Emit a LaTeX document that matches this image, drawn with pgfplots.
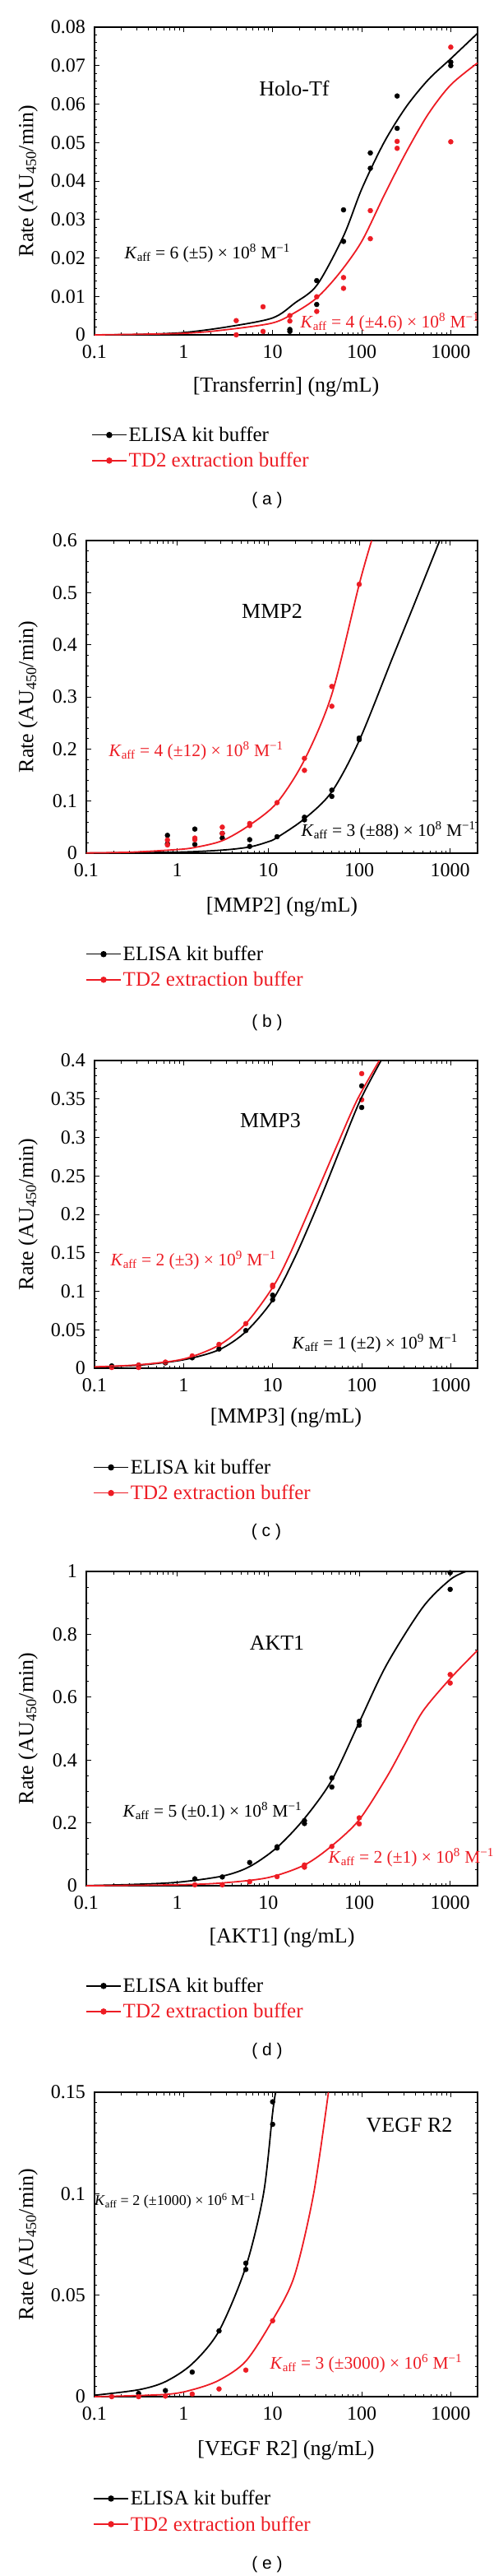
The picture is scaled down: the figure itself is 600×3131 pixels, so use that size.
\documentclass[border=0pt]{standalone}
\usepackage{pgfplots}
\pgfplotsset{compat=1.18}
\usepackage{fontspec}
\setmainfont{Liberation Serif}
\newfontfamily\capfont{Liberation Sans}
\definecolor{tdred}{RGB}{237,28,36}
\newcommand{\tsz}{\fontsize{24}{28}\selectfont}
\newcommand{\lsz}{\fontsize{26}{30}\selectfont}
\newcommand{\gsz}{\fontsize{25}{29}\selectfont}
\newcommand{\ttl}{\fontsize{26}{30}\selectfont}
\newcommand{\ksz}{\fontsize{21.5}{25}\selectfont}
\newcommand{\Kaff}[3]{\textit{K}\textsubscript{aff} = #1 (±#2) × 10\textsuperscript{#3} M\textsuperscript{−1}}
\newcommand{\legimgs}{%
  \addlegendimage{black, line width=1.5pt, mark=*, mark size=3pt}
  \addlegendentry{ELISA kit buffer}
  \addlegendimage{tdred, line width=1.5pt, mark=*, mark size=3pt}
  \addlegendentry{\textcolor{tdred}{TD2 extraction buffer}}}

\pgfplotsset{
 legend image code/.code={\draw[#1, mark repeat=2, mark phase=2] plot coordinates {(0pt,0pt) (21pt,0pt) (42pt,0pt)};},
 every axis/.append style={
  scale only axis, xmin=0.1, xmax=2000, ymin=0,
  xtick={0.1,1,10,100,1000}, xticklabels={0.1,1,10,100,1000},
  minor xtick={0.2,0.3,0.4,0.5,0.6,0.7,0.8,0.9,2,3,4,5,6,7,8,9,20,30,40,50,60,70,80,90,200,300,400,500,600,700,800,900,2000},
  scaled y ticks=false,
  tick align=inside, xtick pos=both, ytick pos=both,
  major tick length=6pt, minor tick length=3.5pt,
  axis line style={line width=1.3pt},
  tick style={black, line width=0.9pt},
  tick label style={font=\tsz, inner sep=1pt},
  xticklabel style={yshift=-11pt},
  yticklabel style={xshift=-10pt},
  ylabel={Rate (AU\textsubscript{450}/min)},
  label style={font=\lsz, inner sep=0pt},
  clip mode=individual,
  legend cell align=left,
  legend style={draw=none, fill=none, font=\gsz, row sep=8pt, inner sep=0pt},
 },
 mypts/.style={only marks, mark=*, mark size=3pt, forget plot},
 myfit/.style={no marks, line width=1.8pt, smooth, forget plot},
}

\begin{document}
\begin{tikzpicture}
\useasboundingbox (0pt,0pt) rectangle (600pt,-3131pt);

% ---------------- (a) Holo-Tf ----------------
\begin{semilogxaxis}[at={(115pt,-407pt)}, anchor=south west, width=466pt, height=374pt,
  ymax=0.08, ytick={0,0.01,0.02,0.03,0.04,0.05,0.06,0.07,0.08},
  yticklabels={0,0.01,0.02,0.03,0.04,0.05,0.06,0.07,0.08}, minor y tick num=4,
  xlabel={[Transferrin] (ng/mL)},
  xlabel style={at={(axis description cs:0.5,-0.168)}, anchor=center},
  ylabel style={at={(axis description cs:-0.1738,0.5)}, anchor=center},
  legend style={at={(axis description cs:-0.0086,-0.294)}, anchor=north west}]
\addplot[black, mypts] coordinates {(15.6,0.0014) (15.6,0.0009) (31.25,0.0141) (31.25,0.0079) (62.5,0.0325) (62.5,0.0243) (125,0.0473) (125,0.0433) (250,0.0621) (250,0.0537) (1000,0.0709) (1000,0.0700)};
\addplot[tdred, mypts] coordinates {(3.9,0.0037) (3.9,0.0000) (7.8,0.0073) (7.8,0.0009) (15.6,0.0050) (15.6,0.0036) (31.25,0.0099) (31.25,0.0061) (62.5,0.0149) (62.5,0.0121) (125,0.0323) (125,0.0250) (250,0.0503) (250,0.0485) (1000,0.0748) (1000,0.0502)};
\addplot[black, myfit] coordinates {(0.1,0) (0.316,0.0001) (1,0.0006) (3.16,0.0021) (10,0.0044) (17.8,0.0083) (31.6,0.0130) (62.5,0.0257) (100,0.0379) (178,0.0500) (316,0.0593) (562,0.0664) (1000,0.0718) (2000,0.0784)};
\addplot[tdred, myfit] coordinates {(0.1,0) (1,0.0004) (3.16,0.0014) (10,0.0031) (17.8,0.0058) (31.6,0.0097) (56,0.0160) (100,0.0243) (178,0.0362) (316,0.0475) (562,0.0575) (1000,0.0650) (2000,0.0707)};
\legimgs
\end{semilogxaxis}
\node[font=\ttl] at (358pt,-107pt) {Holo-Tf};
\node[font=\ksz, anchor=west] at (148pt,-308pt) {\Kaff{6}{5}{8}};
\node[font=\ksz, anchor=west, text=tdred] at (362pt,-392pt) {\Kaff{4}{4.6}{8}};
\node[font=\capfont\fontsize{21}{25}\selectfont] at (325pt,-608pt) {( a )};

% ---------------- (b) MMP2 ----------------
\begin{semilogxaxis}[at={(105pt,-1037pt)}, anchor=south west, width=476pt, height=380pt,
  ymax=0.6, ytick={0,0.1,0.2,0.3,0.4,0.5,0.6},
  yticklabels={0,0.1,0.2,0.3,0.4,0.5,0.6}, minor y tick num=4,
  xlabel={[MMP2] (ng/mL)},
  xlabel style={at={(axis description cs:0.5,-0.171)}, anchor=center},
  ylabel style={at={(axis description cs:-0.149,0.5)}, anchor=center},
  legend style={at={(axis description cs:-0.002,-0.292)}, anchor=north west}]
\addplot[black, mypts] coordinates {(0.78,0.0342) (0.78,0.018) (1.56,0.0463) (1.56,0.0168) (3.125,0.029) (3.125,0.038) (6.25,0.026) (6.25,0.013) (12.5,0.0316) (25,0.069) (25,0.064) (50,0.121) (50,0.109) (100,0.221) (100,0.218)};
\addplot[tdred, mypts] coordinates {(0.78,0.0253) (0.78,0.0158) (1.56,0.029) (1.56,0.026) (3.125,0.050) (3.125,0.038) (6.25,0.057) (6.25,0.053) (12.5,0.097) (25,0.182) (25,0.159) (50,0.320) (50,0.282) (100,0.516)};
\addplot[black, myfit] coordinates {(0.1,0.0002) (1,0.002) (3.16,0.006) (6.25,0.012) (10,0.022) (12.5,0.030) (25,0.066) (50,0.118) (100,0.216) (231,0.374) (405,0.479) (767,0.6)};
\addplot[tdred, myfit] coordinates {(0.1,0.0005) (0.316,0.002) (1,0.007) (1.56,0.011) (3.125,0.024) (6.25,0.054) (12.5,0.097) (25,0.179) (50,0.305) (100,0.516) (137,0.6)};
\legimgs
\end{semilogxaxis}
\node[font=\ttl] at (331pt,-743pt) {MMP2};
\node[font=\ksz, anchor=west, text=tdred] at (129pt,-913pt) {\Kaff{4}{12}{8}};
\node[font=\ksz, anchor=west] at (363pt,-1010pt) {\Kaff{3}{88}{8}};
\node[font=\capfont\fontsize{21}{25}\selectfont] at (325pt,-1243pt) {( b )};

% ---------------- (c) MMP3 ----------------
\begin{semilogxaxis}[at={(115pt,-1663pt)}, anchor=south west, width=466pt, height=374pt,
  ymax=0.4, ytick={0,0.05,0.1,0.15,0.2,0.25,0.3,0.35,0.4},
  yticklabels={0,0.05,0.1,0.15,0.2,0.25,0.3,0.35,0.4}, minor y tick num=4,
  xlabel={[MMP3] (ng/mL)},
  xlabel style={at={(axis description cs:0.5,-0.160)}, anchor=center},
  ylabel style={at={(axis description cs:-0.1738,0.5)}, anchor=center},
  legend style={at={(axis description cs:-0.004,-0.291)}, anchor=north west}]
\addplot[black, mypts] coordinates {(0.156,0.003) (0.3125,0.004) (0.625,0.007) (1.25,0.0136) (2.5,0.025) (5,0.049) (10,0.089) (10,0.095) (100,0.367) (100,0.339)};
\addplot[tdred, mypts] coordinates {(0.156,0.001) (0.3125,0.001) (0.3125,0.004) (0.625,0.008) (1.25,0.016) (2.5,0.031) (5,0.058) (10,0.106) (10,0.108) (100,0.383) (100,0.349)};
\addplot[black, myfit] coordinates {(0.1,0.0015) (0.316,0.004) (1,0.011) (2.5,0.024) (5,0.0475) (10,0.0886) (18.1,0.146) (33.4,0.217) (59.3,0.289) (96.8,0.349) (165,0.4)};
\addplot[tdred, myfit] coordinates {(0.1,0.0018) (0.316,0.0045) (1,0.012) (2.5,0.030) (5,0.058) (10,0.105) (15.3,0.146) (28.4,0.217) (52.5,0.289) (89.1,0.349) (158,0.4)};
\legimgs
\end{semilogxaxis}
\node[font=\ttl] at (329pt,-1362pt) {MMP3};
\node[font=\ksz, anchor=west, text=tdred] at (131pt,-1532pt) {\Kaff{2}{3}{9}};
\node[font=\ksz, anchor=west] at (352pt,-1633pt) {\Kaff{1}{2}{9}};
\node[font=\capfont\fontsize{21}{25}\selectfont] at (324pt,-1862pt) {( c )};

% ---------------- (d) AKT1 ----------------
\begin{semilogxaxis}[at={(105pt,-2292pt)}, anchor=south west, width=476pt, height=382pt,
  ymax=1, ytick={0,0.2,0.4,0.6,0.8,1},
  yticklabels={0,0.2,0.4,0.6,0.8,1}, minor y tick num=3,
  xlabel={[AKT1] (ng/mL)},
  xlabel style={at={(axis description cs:0.5,-0.165)}, anchor=center},
  ylabel style={at={(axis description cs:-0.149,0.5)}, anchor=center},
  legend style={at={(axis description cs:-0.002,-0.288)}, anchor=north west}]
\addplot[black, mypts] coordinates {(1.56,0.022) (3.125,0.028) (6.25,0.074) (12.5,0.124) (12.5,0.120) (25,0.207) (25,0.198) (50,0.343) (50,0.314) (100,0.523) (100,0.511) (1000,0.996) (1000,0.943)};
\addplot[tdred, mypts] coordinates {(1.56,0.003) (3.125,0.003) (6.25,0.013) (12.5,0.029) (25,0.066) (25,0.059) (50,0.125) (100,0.216) (100,0.197) (1000,0.672) (1000,0.645)};
\addplot[black, myfit] coordinates {(0.1,0.0005) (0.316,0.004) (1,0.011) (3.16,0.031) (6.25,0.061) (12.5,0.122) (25,0.214) (50,0.336) (100,0.52) (200,0.703) (500,0.886) (1000,0.974) (1500,1.0)};
\addplot[tdred, myfit] coordinates {(0.1,0) (1,0.003) (3.16,0.009) (10,0.026) (25,0.066) (50,0.127) (100,0.21) (200,0.345) (316,0.45) (500,0.555) (1000,0.659) (2000,0.749)};
\legimgs
\end{semilogxaxis}
\node[font=\ttl] at (337pt,-1997pt) {AKT1};
\node[font=\ksz, anchor=west] at (146pt,-2202pt) {\Kaff{5}{0.1}{8}};
\node[font=\ksz, anchor=west, text=tdred] at (396pt,-2258pt) {\Kaff{2}{1}{8}};
\node[font=\capfont\fontsize{21}{25}\selectfont] at (325pt,-2493pt) {( d )};

% ---------------- (e) VEGF R2 ----------------
\begin{semilogxaxis}[at={(115pt,-2913pt)}, anchor=south west, width=466pt, height=370pt,
  ymax=0.15, ytick={0,0.05,0.1,0.15},
  yticklabels={0,0.05,0.1,0.15}, minor y tick num=9,
  xlabel={[VEGF R2] (ng/mL)},
  xlabel style={at={(axis description cs:0.5,-0.176)}, anchor=center},
  ylabel style={at={(axis description cs:-0.1738,0.5)}, anchor=center},
  legend style={at={(axis description cs:-0.004,-0.303)}, anchor=north west}]
\addplot[black, mypts] coordinates {(0.3125,0.0016) (0.625,0.003) (1.25,0.0121) (2.5,0.0324) (5,0.0658) (5,0.0627) (10,0.1453) (10,0.1342)};
\addplot[tdred, mypts] coordinates {(0.156,0.0) (0.3125,0.0) (0.625,0.0003) (1.25,0.0013) (2.5,0.0038) (5,0.0131) (10,0.0374)};
\addplot[black, myfit] coordinates {(0.1,0.0007) (0.3125,0.0034) (0.625,0.0074) (1.25,0.0162) (2.5,0.0324) (5,0.064) (7.9,0.100) (10,0.140) (10.8,0.15)};
\addplot[tdred, myfit] coordinates {(0.1,0) (0.625,0.0011) (1.25,0.0034) (2.5,0.0081) (5,0.0175) (10,0.0378) (17.5,0.0593) (28.8,0.0998) (42.3,0.15)};
\legimgs
\end{semilogxaxis}
\node[font=\ttl] at (498pt,-2583pt) {VEGF R2};
\node[font=\fontsize{18}{22}\selectfont, anchor=west, inner sep=0pt] at (115pt,-2675pt) {\Kaff{2}{1000}{6}};
\node[font=\ksz, anchor=west, text=tdred] at (325pt,-2873pt) {\Kaff{3}{3000}{6}};
\node[font=\capfont\fontsize{21}{25}\selectfont] at (325pt,-3117pt) {( e )};
\end{tikzpicture}
\end{document}
